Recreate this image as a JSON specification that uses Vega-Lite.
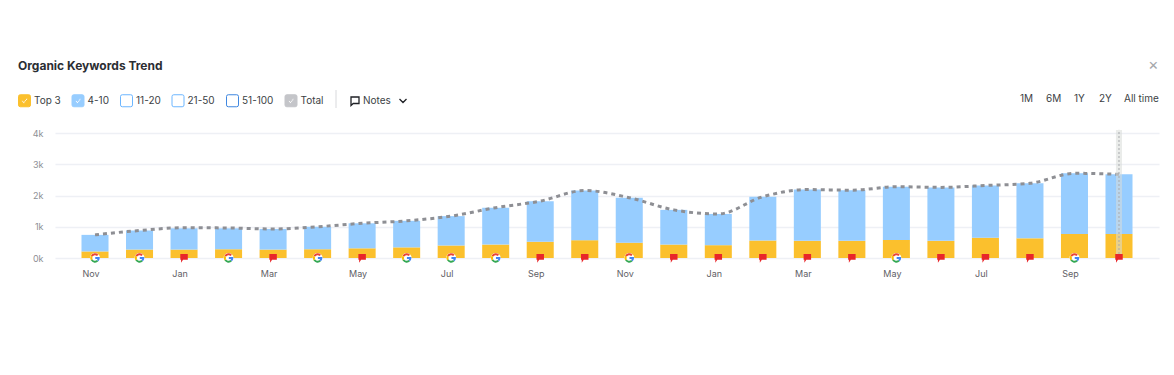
{"$schema":"https://vega.github.io/schema/vega-lite/v6.json","width":1104,"height":125,"autosize":{"type":"none"},"padding":{"left":55,"top":133,"right":15,"bottom":117},"background":"#ffffff","config":{"view":{"stroke":null},"font":"Inter","axisY":{"tickCount":5}},"title":{"text":"Organic Keywords Trend","anchor":"start","frame":"group","dx":-37,"offset":0,"dy":16,"fontSize":12,"fontWeight":700,"color":"#2b2e33","font":"Inter"},"datasets":{"months":[{"m":"Nov 20","total":740,"note":"google"},{"m":"Dec 20","total":880,"note":"google"},{"m":"Jan 21","total":970,"note":"flag"},{"m":"Feb 21","total":960,"note":"google"},{"m":"Mar 21","total":930,"note":"flag"},{"m":"Apr 21","total":1000,"note":"google"},{"m":"May 21","total":1110,"note":"flag"},{"m":"Jun 21","total":1190,"note":"google"},{"m":"Jul 21","total":1340,"note":"google"},{"m":"Aug 21","total":1610,"note":"google"},{"m":"Sep 21","total":1820,"note":"flag"},{"m":"Oct 21","total":2160,"note":"flag"},{"m":"Nov 21","total":1930,"note":"google"},{"m":"Dec 21","total":1540,"note":"flag"},{"m":"Jan 22","total":1410,"note":"flag"},{"m":"Feb 22","total":1960,"note":"flag"},{"m":"Mar 22","total":2190,"note":"flag"},{"m":"Apr 22","total":2170,"note":"flag"},{"m":"May 22","total":2280,"note":"google"},{"m":"Jun 22","total":2260,"note":"flag"},{"m":"Jul 22","total":2320,"note":"flag"},{"m":"Aug 22","total":2390,"note":"flag"},{"m":"Sep 22","total":2710,"note":"google"},{"m":"Oct 22","total":2680,"note":"flag"}],"series":[{"m":"Nov 20","s":"Top 3","v":210},{"m":"Nov 20","s":"4-10","v":530},{"m":"Dec 20","s":"Top 3","v":270},{"m":"Dec 20","s":"4-10","v":610},{"m":"Jan 21","s":"Top 3","v":270},{"m":"Jan 21","s":"4-10","v":680},{"m":"Feb 21","s":"Top 3","v":280},{"m":"Feb 21","s":"4-10","v":670},{"m":"Mar 21","s":"Top 3","v":270},{"m":"Mar 21","s":"4-10","v":660},{"m":"Apr 21","s":"Top 3","v":280},{"m":"Apr 21","s":"4-10","v":720},{"m":"May 21","s":"Top 3","v":310},{"m":"May 21","s":"4-10","v":800},{"m":"Jun 21","s":"Top 3","v":340},{"m":"Jun 21","s":"4-10","v":850},{"m":"Jul 21","s":"Top 3","v":400},{"m":"Jul 21","s":"4-10","v":940},{"m":"Aug 21","s":"Top 3","v":430},{"m":"Aug 21","s":"4-10","v":1180},{"m":"Sep 21","s":"Top 3","v":520},{"m":"Sep 21","s":"4-10","v":1300},{"m":"Oct 21","s":"Top 3","v":570},{"m":"Oct 21","s":"4-10","v":1590},{"m":"Nov 21","s":"Top 3","v":490},{"m":"Nov 21","s":"4-10","v":1440},{"m":"Dec 21","s":"Top 3","v":430},{"m":"Dec 21","s":"4-10","v":1110},{"m":"Jan 22","s":"Top 3","v":410},{"m":"Jan 22","s":"4-10","v":1000},{"m":"Feb 22","s":"Top 3","v":560},{"m":"Feb 22","s":"4-10","v":1400},{"m":"Mar 22","s":"Top 3","v":550},{"m":"Mar 22","s":"4-10","v":1640},{"m":"Apr 22","s":"Top 3","v":550},{"m":"Apr 22","s":"4-10","v":1620},{"m":"May 22","s":"Top 3","v":580},{"m":"May 22","s":"4-10","v":1700},{"m":"Jun 22","s":"Top 3","v":550},{"m":"Jun 22","s":"4-10","v":1710},{"m":"Jul 22","s":"Top 3","v":650},{"m":"Jul 22","s":"4-10","v":1670},{"m":"Aug 22","s":"Top 3","v":630},{"m":"Aug 22","s":"4-10","v":1760},{"m":"Sep 22","s":"Top 3","v":770},{"m":"Sep 22","s":"4-10","v":1940},{"m":"Oct 22","s":"Top 3","v":770},{"m":"Oct 22","s":"4-10","v":1910}],"ranges":[{"r":"1M"},{"r":"6M"},{"r":"1Y"},{"r":"2Y"},{"r":"All time"}],"notes":[{"n":"Notes"}],"close":[{"c":"×"}],"sep":[{"b":" "}],"under":[{"u":" "}]},"data":{"name":"months"},"encoding":{"x":{"field":"m","type":"nominal","sort":null,"scale":{"type":"band","paddingInner":0.393,"paddingOuter":0.595},"axis":{"title":null,"values":["Nov 20","Jan 21","Mar 21","May 21","Jul 21","Sep 21","Nov 21","Jan 22","Mar 22","May 22","Jul 22","Sep 22"],"labelExpr":"split(datum.value,' ')[0]","labelAngle":0,"labelFontSize":9,"labelColor":"#5f6166","labelPadding":11,"labelOffset":-4,"ticks":false,"domain":false,"labelFont":"Inter"}}},"layer":[{"data":{"name":"series"},"mark":{"type":"bar","strokeWidth":0},"encoding":{"y":{"field":"v","type":"quantitative","stack":"zero","scale":{"domain":[0,4000]},"axis":{"title":null,"values":[0,1000,2000,3000,4000],"labelOverlap":false,"labelExpr":"(datum.value/1000)+'k'","grid":true,"gridColor":"#eef0f5","gridWidth":1.5,"ticks":false,"domain":false,"labelFontSize":9,"labelColor":"#8d8f95","labelPadding":12,"labelFont":"Inter"}},"order":{"field":"s","sort":"descending"},"fill":{"field":"s","type":"nominal","scale":{"domain":["Top 3","4-10","11-20","21-50","51-100","Total"],"range":["#fbc02d","#97cdff","#ffffff","#ffffff","#ffffff","#c4c5c9"]},"legend":{"title":null,"orient":"none","legendX":-37,"legendY":-39,"direction":"horizontal","columns":6,"columnPadding":8.5,"symbolSize":144,"symbolStrokeWidth":1,"symbolType":"square","labelFontSize":10,"labelColor":"#3c3f45","labelOffset":3,"labelFont":"Inter","encoding":{"symbols":{"shape":{"value":{"expr":"indexof(['Top 3','4-10','Total'],datum.value)>=0 ? 'M-0.7,-1H0.7Q1,-1,1,-0.7V0.7Q1,1,0.7,1H-0.7Q-1,1,-1,0.7V-0.7Q-1,-1,-0.7,-1ZM-0.5,0.05L-0.1,0.5L0.55,-0.3L0.35,-0.45L-0.1,0.15L-0.3,-0.1Z' : 'M-0.7,-1H0.7Q1,-1,1,-0.7V0.7Q1,1,0.7,1H-0.7Q-1,1,-1,0.7V-0.7Q-1,-1,-0.7,-1Z'"}}}}}},"stroke":{"field":"s","type":"nominal","scale":{"domain":["Top 3","4-10","11-20","21-50","51-100","Total"],"range":["#fbc02d","#97cdff","#6cb6ff","#6cb6ff","#3f87e0","#c4c5c9"]}}}},{"mark":{"type":"line","color":"#8e8f94","strokeWidth":3,"strokeDash":[4,4],"interpolate":"monotone"},"encoding":{"y":{"field":"total","type":"quantitative"}}},{"data":{"values":[{"m":"Oct 22","lo":0,"hi":4100}]},"mark":{"type":"rule","strokeWidth":6,"color":"#d9dcd9","opacity":0.55},"encoding":{"y":{"field":"lo","type":"quantitative"},"y2":{"field":"hi"}}},{"data":{"values":[{"m":"Oct 22","lo":0,"hi":4100}]},"mark":{"type":"rule","strokeWidth":1,"color":"#a8aaad","strokeDash":[2,2]},"encoding":{"y":{"field":"lo","type":"quantitative"},"y2":{"field":"hi"}}},{"transform":[{"filter":"datum.note=='flag'"}],"mark":{"type":"point","filled":true,"color":"#e8262a","opacity":1,"size":100,"shape":"M-0.75,-0.8H0.75V0.35H-0.2L-0.6,0.95L-0.6,0.35H-0.75Z"},"encoding":{"y":{"datum":0}}},{"transform":[{"filter":"datum.note=='google'"}],"mark":{"type":"point","filled":true,"color":"#ffffff","opacity":1,"size":100,"shape":"circle"},"encoding":{"y":{"datum":0}}},{"transform":[{"filter":"datum.note=='google'"}],"mark":{"type":"point","filled":false,"color":"#ea4335","opacity":1,"size":100,"strokeWidth":2,"shape":"M-0.65,-0.375A0.75,0.75,0,0,1,0.53,-0.53"},"encoding":{"y":{"datum":0}}},{"transform":[{"filter":"datum.note=='google'"}],"mark":{"type":"point","filled":false,"color":"#fbbc05","opacity":1,"size":100,"strokeWidth":2,"shape":"M-0.65,0.375A0.75,0.75,0,0,1,-0.65,-0.375"},"encoding":{"y":{"datum":0}}},{"transform":[{"filter":"datum.note=='google'"}],"mark":{"type":"point","filled":false,"color":"#34a853","opacity":1,"size":100,"strokeWidth":2,"shape":"M0.53,0.53A0.75,0.75,0,0,1,-0.65,0.375"},"encoding":{"y":{"datum":0}}},{"transform":[{"filter":"datum.note=='google'"}],"mark":{"type":"point","filled":false,"color":"#4285f4","opacity":1,"size":100,"strokeWidth":2,"shape":"M0.05,0H0.75A0.75,0.75,0,0,1,0.53,0.53"},"encoding":{"y":{"datum":0}}},{"data":{"name":"ranges"},"mark":{"type":"point","opacity":0,"size":0,"color":"transparent"},"encoding":{"x":{"datum":"Oct 22"},"y":{"datum":0},"shape":{"field":"r","type":"nominal","sort":null,"scale":{"range":["circle","circle","circle","circle","circle"]},"legend":{"title":null,"orient":"none","legendX":973,"legendY":-39,"direction":"horizontal","columns":5,"columnPadding":12,"symbolSize":0,"symbolOpacity":0,"labelOffset":-18,"labelFontSize":10,"labelColor":"#3c3f45","labelFont":"Inter"}}}},{"data":{"name":"under"},"mark":{"type":"point","opacity":0,"size":0,"color":"transparent"},"encoding":{"x":{"datum":"Oct 22"},"y":{"datum":0},"size":{"field":"u","type":"nominal","scale":{"range":[100]},"legend":{"title":null,"orient":"none","legendX":1042,"legendY":-27,"symbolSize":100,"symbolOpacity":1,"symbolType":"M-1,0H1.8","symbolFillColor":"transparent","symbolStrokeColor":"#4a90e2","symbolStrokeWidth":1.6,"labelFontSize":10}}}},{"data":{"name":"notes"},"mark":{"type":"point","opacity":0,"size":0,"color":"transparent"},"encoding":{"x":{"datum":"Oct 22"},"y":{"datum":0},"opacity":{"field":"n","type":"nominal","scale":{"range":[0]},"legend":{"title":null,"orient":"none","legendX":294,"legendY":-38,"symbolSize":100,"symbolOpacity":1,"symbolType":"M-0.8,-0.8H0.8V0.5H-0.35L-0.8,0.9Z M8.9,-0.4L9.6,0.3L10.3,-0.4","symbolFillColor":"transparent","symbolStrokeColor":"#1f2126","symbolStrokeWidth":1.3,"labelOffset":2,"labelFontSize":10,"labelColor":"#3c3f45","labelFont":"Inter"}}}},{"data":{"name":"sep"},"mark":{"type":"point","opacity":0,"size":0,"color":"transparent"},"encoding":{"x":{"datum":"Oct 22"},"y":{"datum":0},"strokeWidth":{"field":"b","type":"nominal","scale":{"range":[1]},"legend":{"title":null,"orient":"none","legendX":281,"legendY":-34,"symbolSize":100,"symbolOpacity":1,"symbolType":"M0,-1.8V1.8","symbolStrokeColor":"#d8d9dc","labelFontSize":10}}}},{"data":{"name":"close"},"mark":{"type":"point","opacity":0,"size":0,"color":"transparent"},"encoding":{"x":{"datum":"Oct 22"},"y":{"datum":0},"strokeDash":{"field":"c","type":"nominal","scale":{"range":[[1,0]]},"legend":{"title":null,"orient":"none","legendX":1095,"legendY":-76,"symbolSize":0,"symbolOpacity":0,"labelOffset":-18,"labelFontSize":16,"labelColor":"#a5a7ab","labelFont":"Inter"}}}}]}
